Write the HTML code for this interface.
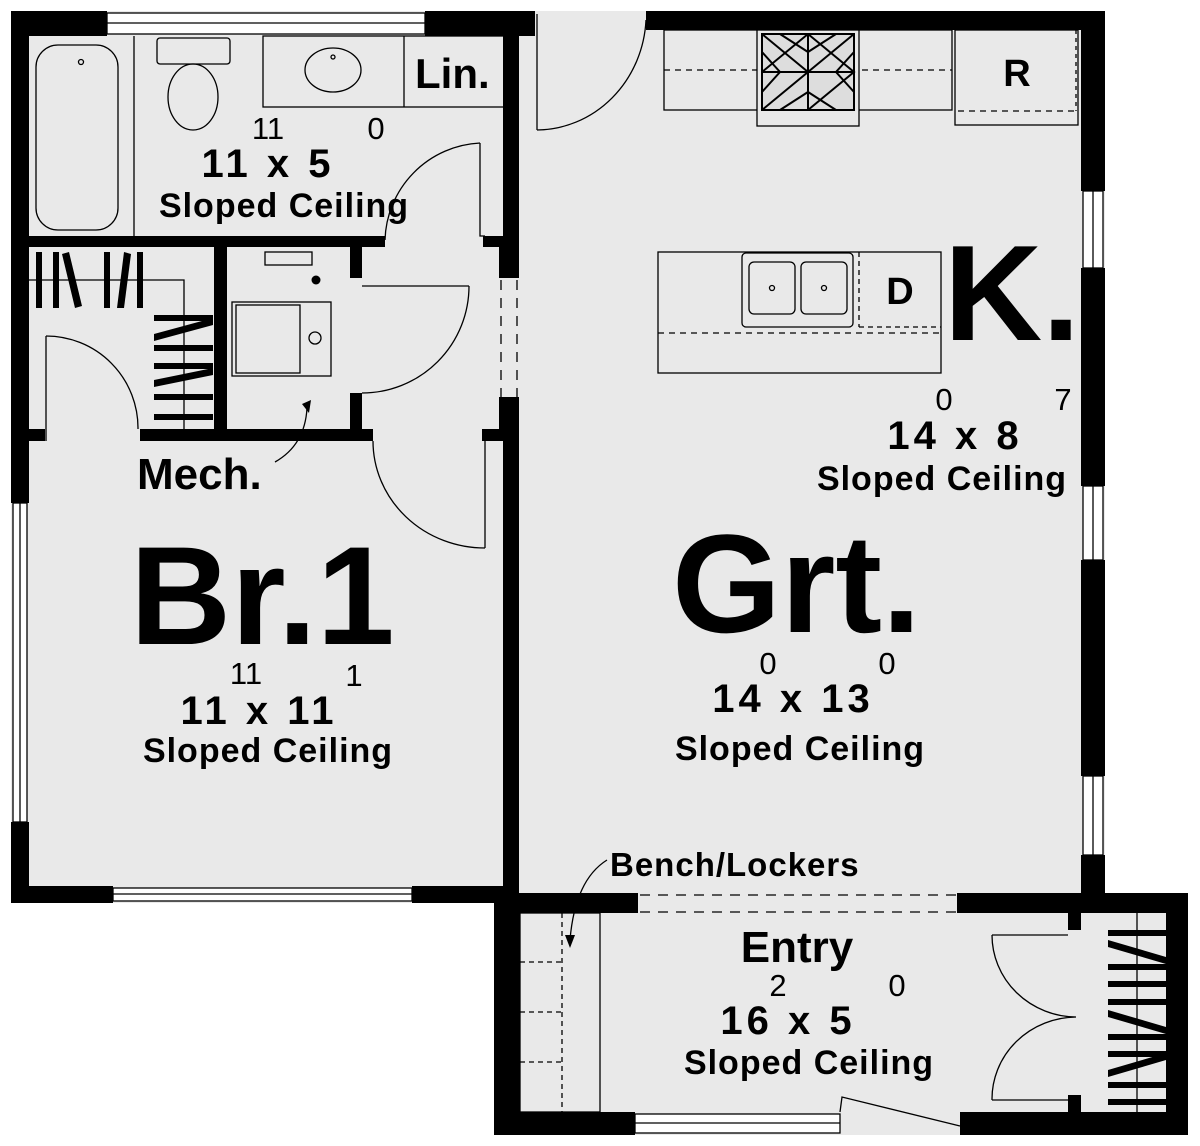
<!DOCTYPE html>
<html><head><meta charset="utf-8"><style>
html,body{margin:0;padding:0;background:#fff;}
svg{display:block;}
text{font-family:"Liberation Sans",Arial,sans-serif;fill:#000;}
</style></head><body>
<svg width="1200" height="1146" viewBox="0 0 1200 1146" xmlns="http://www.w3.org/2000/svg">
<rect x="11" y="11" width="508" height="892" fill="#e9e9e9"/>
<rect x="503" y="11" width="602" height="882" fill="#e9e9e9"/>
<rect x="494" y="893" width="694" height="242" fill="#e9e9e9"/>

<g fill="#000">
<rect x="11" y="11" width="96" height="25"/>
<rect x="425" y="11" width="110" height="25"/>
<rect x="11" y="11" width="18" height="492"/>
<rect x="11" y="822" width="18" height="81"/>
<rect x="11" y="886" width="102" height="17"/>
<rect x="412" y="886" width="107" height="17"/>
<rect x="503" y="11" width="16" height="236"/>
<rect x="499" y="247" width="20" height="31"/>
<rect x="499" y="397" width="20" height="44"/>
<rect x="503" y="397" width="16" height="506"/>
<rect x="29" y="236" width="356" height="11"/>
<rect x="483" y="236" width="20" height="11"/>
<rect x="214" y="247" width="13" height="182"/>
<rect x="140" y="429" width="233" height="12"/>
<rect x="350" y="247" width="12" height="31"/>
<rect x="350" y="393" width="12" height="36"/>
<rect x="29" y="429" width="16" height="12"/>
<rect x="482" y="429" width="21" height="12"/>
<rect x="646" y="11" width="459" height="19"/>
<rect x="1081" y="11" width="24" height="180"/>
<rect x="1081" y="268" width="24" height="218"/>
<rect x="1081" y="560" width="24" height="216"/>
<rect x="1081" y="855" width="24" height="58"/>
<rect x="494" y="893" width="144" height="20"/>
<rect x="957" y="893" width="231" height="20"/>
<rect x="494" y="893" width="26" height="242"/>
<rect x="1166" y="893" width="22" height="242"/>
<rect x="494" y="1112" width="141" height="23"/>
<rect x="960" y="1112" width="228" height="23"/>
<rect x="1068" y="913" width="13" height="17"/>
<rect x="1068" y="1095" width="13" height="17"/>
</g>

<g fill="none" stroke="#000" stroke-width="1.3">
<rect x="107" y="13" width="318" height="21" fill="#fff"/>
<line x1="107" y1="23" x2="425" y2="23"/>
<rect x="13" y="503" width="14" height="319" fill="#fff"/>
<line x1="20" y1="503" x2="20" y2="822"/>
<rect x="113" y="888" width="299" height="13" fill="#fff"/>
<line x1="113" y1="894" x2="412" y2="894"/>
<rect x="1083" y="191" width="20" height="77" fill="#fff"/><line x1="1093" y1="191" x2="1093" y2="268"/>
<rect x="1083" y="486" width="20" height="74" fill="#fff"/><line x1="1093" y1="486" x2="1093" y2="560"/>
<rect x="1083" y="776" width="20" height="79" fill="#fff"/><line x1="1093" y1="776" x2="1093" y2="855"/>
<rect x="635" y="1114" width="205" height="19" fill="#fff"/><line x1="635" y1="1123" x2="840" y2="1123"/>
<path d="M840 1112 L842 1097 L960 1126"/>
<line x1="501" y1="280" x2="501" y2="397" stroke-dasharray="10,8"/>
<line x1="517" y1="280" x2="517" y2="397" stroke-dasharray="10,8"/>
<line x1="640" y1="895" x2="957" y2="895" stroke-dasharray="10,8"/>
<line x1="640" y1="912" x2="957" y2="912" stroke-dasharray="10,8"/>

<rect x="36" y="45" width="82" height="185" rx="22"/>
<circle cx="81" cy="62" r="2.5"/>
<line x1="134" y1="36" x2="134" y2="236"/>
<rect x="157" y="38" width="73" height="26" rx="3"/>
<ellipse cx="193" cy="97" rx="25" ry="33"/>
<rect x="263" y="36" width="241" height="71"/>
<line x1="404" y1="36" x2="404" y2="107"/>
<ellipse cx="333" cy="70" rx="28" ry="22"/>
<circle cx="333" cy="57" r="2"/>
<path d="M480 143 L480 236 L485 236"/>
<path d="M480 143 A100 100 0 0 0 385 240"/>
<path d="M29 280 L184 280 L184 429"/>
<path d="M46 441 L46 336"/>
<path d="M46 336 A92 92 0 0 1 138 429"/>
<rect x="265" y="252" width="47" height="13"/>
<rect x="232" y="302" width="99" height="74"/>
<rect x="236" y="305" width="64" height="68"/>
<circle cx="315" cy="338" r="6"/>
<path d="M362 286 L469 286"/>
<path d="M469 286 A107 107 0 0 1 362 393"/>
<path d="M275 462 Q305 445 307 408"/>
<path d="M485 441 L485 548"/>
<path d="M373 441 A112 107 0 0 0 485 548"/>
<path d="M537 14 L537 130"/>
<path d="M537 130 A110 116 0 0 0 646 20"/>
<rect x="664" y="30" width="288" height="80"/>
<line x1="664" y1="70" x2="952" y2="70" stroke-dasharray="6,5"/>
<rect x="757" y="30" width="102" height="96" fill="#e9e9e9"/>
<rect x="955" y="30" width="123" height="95"/>
<line x1="958" y1="111" x2="1078" y2="111" stroke-dasharray="6,5"/>
<line x1="1076" y1="30" x2="1076" y2="111" stroke-dasharray="4,4"/>
<rect x="658" y="252" width="283" height="121"/>
<line x1="658" y1="333" x2="941" y2="333" stroke-dasharray="6,5"/>
<rect x="742" y="253" width="111" height="74" rx="4"/>
<rect x="749" y="262" width="46" height="52" rx="5"/>
<rect x="801" y="262" width="46" height="52" rx="5"/>
<circle cx="772" cy="288" r="2.5"/><circle cx="824" cy="288" r="2.5"/>
<line x1="859" y1="252" x2="859" y2="327" stroke-dasharray="5,4"/>
<line x1="859" y1="327" x2="941" y2="327" stroke-dasharray="5,4"/>
<rect x="520" y="913" width="80" height="199"/>
<line x1="562" y1="913" x2="562" y2="1112" stroke-dasharray="5,4"/>
<line x1="520" y1="962" x2="562" y2="962" stroke-dasharray="5,4"/>
<line x1="520" y1="1012" x2="562" y2="1012" stroke-dasharray="5,4"/>
<line x1="520" y1="1062" x2="562" y2="1062" stroke-dasharray="5,4"/>
<path d="M607 860 Q575 880 570 940"/>
<path d="M992 935 L1068 935 M992 1100 L1068 1100"/>
<path d="M992 935 A85 82 0 0 0 1076 1017 A85 82 0 0 0 992 1100"/>
<line x1="1137" y1="913" x2="1137" y2="1112"/>
</g>

<g stroke="#000" stroke-width="2" fill="none">
<rect x="762" y="34" width="92" height="76" fill="#ddd"/>
<path d="M762 34 L808 72 L762 110 M808 34 L762 72 M808 34 L854 72 L808 110 M854 34 L808 72 M780 34 L808 52 L836 34 M780 110 L808 92 L836 110 M762 52 L780 72 L762 92 M854 52 L836 72 L854 92"/>
<line x1="808" y1="34" x2="808" y2="110"/>
<line x1="762" y1="72" x2="854" y2="72"/>
</g>
<circle cx="316" cy="280" r="4.5" fill="#000"/>
<path d="M302 404 L311 400 L309 413 Z" fill="#000"/>
<path d="M565 935 L575 935 L570 948 Z" fill="#000"/>

<g fill="#000">
<rect x="36" y="252" width="6" height="56"/><rect x="53" y="252" width="6" height="56"/>
<path d="M62 254 L69 252 L82 306 L75 308 Z"/>
<rect x="104" y="252" width="6" height="56"/>
<path d="M117 308 L124 252 L131 254 L124 308 Z"/>
<rect x="137" y="252" width="6" height="56"/>
<rect x="154" y="315" width="59" height="6"/>
<path d="M154 334 L213 318 L213 325 L154 341 Z"/>
<rect x="154" y="345" width="59" height="6"/>
<rect x="154" y="363" width="59" height="6"/>
<path d="M154 380 L213 368 L213 375 L154 387 Z"/>
<rect x="154" y="394" width="59" height="6"/>
<rect x="154" y="414" width="59" height="6"/>
<rect x="1108" y="930" width="58" height="6"/>
<path d="M1108 940 L1166 957 L1166 964 L1108 947 Z"/>
<rect x="1108" y="964" width="58" height="6"/>
<rect x="1108" y="981" width="58" height="6"/>
<rect x="1108" y="999" width="58" height="6"/>
<path d="M1108 1010 L1166 1027 L1166 1034 L1108 1017 Z"/>
<rect x="1108" y="1034" width="58" height="6"/>
<rect x="1108" y="1051" width="58" height="6"/>
<path d="M1108 1070 L1166 1053 L1166 1060 L1108 1077 Z"/>
<rect x="1108" y="1082" width="58" height="6"/>
<rect x="1108" y="1099" width="58" height="6"/>
</g>

<g font-weight="bold">
<text x="415" y="88" font-size="42">Lin.</text>
<text x="1017" y="86" font-size="38" text-anchor="middle">R</text>
<text x="900" y="304" font-size="38" text-anchor="middle">D</text>
<text x="944" y="340" font-size="136">K.</text>
<text x="130" y="644" font-size="140">Br.1</text>
<text x="672" y="632" font-size="140">Grt.</text>
<text x="137" y="489" font-size="44">Mech.</text>
<text x="797" y="962" font-size="44" text-anchor="middle">Entry</text>
<text x="610" y="876" font-size="33" letter-spacing="1">Bench/Lockers</text>
<g font-size="34" letter-spacing="1" text-anchor="middle">
<text x="284" y="217">Sloped Ceiling</text>
<text x="268" y="762">Sloped Ceiling</text>
<text x="800" y="760">Sloped Ceiling</text>
<text x="942" y="490">Sloped Ceiling</text>
<text x="809" y="1074">Sloped Ceiling</text>
</g>
<g font-size="40" letter-spacing="4" text-anchor="middle">
<text x="268" y="177">11 x 5</text>
<text x="259" y="724">11 x 11</text>
<text x="793" y="712">14 x 13</text>
<text x="955" y="449">14 x 8</text>
<text x="788" y="1034">16 x 5</text>
</g>
</g>
<g font-size="31">
<text x="268" y="139" text-anchor="middle">11</text>
<text x="376" y="139" text-anchor="middle">0</text>
<text x="246" y="684" text-anchor="middle">11</text>
<text x="354" y="686" text-anchor="middle">1</text>
<text x="768" y="674" text-anchor="middle">0</text>
<text x="887" y="674" text-anchor="middle">0</text>
<text x="944" y="410" text-anchor="middle">0</text>
<text x="1063" y="410" text-anchor="middle">7</text>
<text x="778" y="996" text-anchor="middle">2</text>
<text x="897" y="996" text-anchor="middle">0</text>
</g>
</svg>
</body></html>
